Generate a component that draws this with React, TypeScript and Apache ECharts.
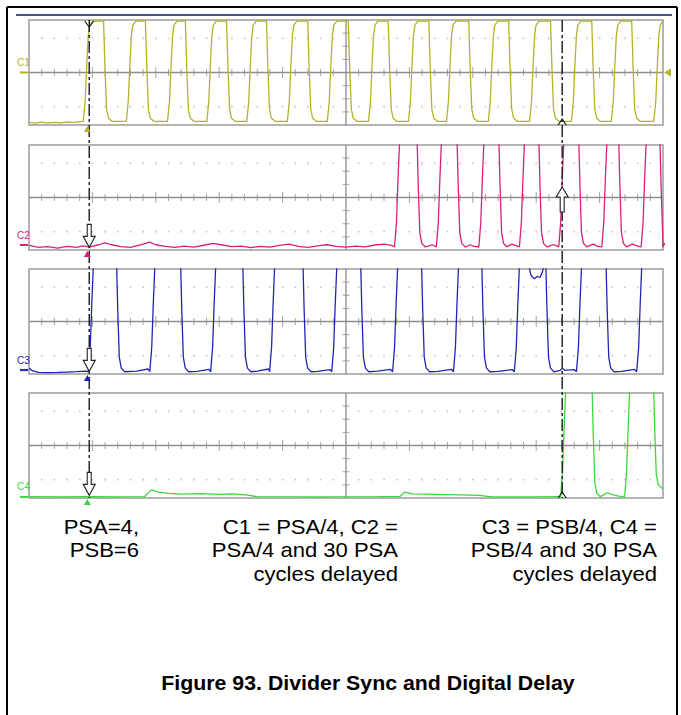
import React, { useEffect, useRef } from "react";
import * as echarts from "echarts";

// ---- Data (time in scope divisions 0..10, amplitude in vertical divisions -4..4) ----
const CH_NAMES = ["C1", "C2", "C3", "C4"];
const CH_COLORS = ["#b3b328", "#d81f7c", "#2424b4", "#3bd83b"];

const C1_RISES = [0.91, 1.59, 2.24, 2.86, 3.49, 4.13, 4.76, 5.41, 6.04, 6.64, 7.3, 7.95, 8.61, 9.24, 9.91];
const C1_FALLS = [1.2, 1.86, 2.49, 3.14, 3.77, 4.42, 5.06, 5.69, 6.33, 6.96, 7.59, 8.25, 8.9, 9.53];
const C2_RISES = [5.82, 6.48, 7.15, 7.79, 8.41, 9.09, 9.71];
const C2_FALLS = [6.14, 6.77, 7.43, 8.06, 8.69, 9.32, 9.97];
const C3_RISES = [0.99, 1.96, 2.92, 3.85, 4.83, 5.79, 6.75, 7.71, 8.69, 9.64];
const C3_FALLS = [1.4, 2.41, 3.39, 4.34, 5.25, 6.21, 7.16, 8.17, 9.12];
const C4_RISES = [8.44, 9.45];
const C4_FALLS = [8.9, 9.87];

const LOW_LEVELS = [-3.72, -3.77, -3.83, -3.9];
const HIGH_LEVELS = [3.92, 5.5, 5.5, 5.5];
const C4_END_LEVEL = -3.25;
const GROUND_LEVELS = [0, -3.62, -3.7, -3.92];

const C1_LEAD = [[0, -3.8], [0.1, -3.86], [0.2, -3.78], [0.3, -3.86], [0.4, -3.8], [0.5, -3.84], [0.6, -3.76], [0.7, -3.8], [0.8, -3.74]];
const C2_LEAD = [
  [0, -3.65], [0.15, -3.8], [0.3, -3.75], [0.45, -3.85], [0.6, -3.72], [0.75, -3.8], [0.85, -3.68], [0.95, -3.78],
  [1.1, -3.6], [1.2, -3.45], [1.3, -3.6], [1.45, -3.75], [1.6, -3.8], [1.8, -3.55], [1.9, -3.4], [2.0, -3.6],
  [2.15, -3.72], [2.3, -3.8], [2.45, -3.7], [2.6, -3.78], [2.8, -3.6], [2.9, -3.5], [3.05, -3.62], [3.2, -3.75],
  [3.35, -3.7], [3.5, -3.82], [3.65, -3.72], [3.8, -3.78], [3.95, -3.65], [4.1, -3.55], [4.25, -3.72], [4.4, -3.8],
  [4.55, -3.68], [4.7, -3.6], [4.85, -3.72], [5.0, -3.78], [5.15, -3.7], [5.3, -3.76], [5.45, -3.62], [5.6, -3.55], [5.72, -3.65],
];
const C3_LEAD = [[0, -3.55], [0.05, -3.75], [0.15, -3.88], [0.3, -3.9], [0.45, -3.88], [0.6, -3.85], [0.75, -3.82], [0.9, -3.78]];
const C4_LEAD = [
  [0, -3.9], [0.5, -3.92], [1.0, -3.9], [1.4, -3.92], [1.82, -3.9], [1.93, -3.38], [2.05, -3.55], [2.2, -3.64],
  [2.4, -3.7], [2.7, -3.66], [3.0, -3.72], [3.2, -3.68], [3.45, -3.78], [3.6, -3.9], [4.5, -3.92], [5.5, -3.9],
  [5.85, -3.88], [5.93, -3.55], [6.05, -3.68], [6.4, -3.72], [6.8, -3.76], [7.1, -3.8], [7.3, -3.92], [8.0, -3.92], [8.35, -3.9],
];
const C1_EXTRA: number[][] = [];
const C2_EXTRA = [
  [6.3, -3.7], [6.36, -3.6], [6.9, -3.75], [6.96, -3.6], [7.02, -3.72], [7.55, -3.7], [7.62, -3.55], [7.7, -3.7],
  [8.2, -3.72], [8.27, -3.58], [8.33, -3.7], [8.82, -3.7], [8.9, -3.55], [8.97, -3.72], [9.45, -3.7], [9.52, -3.56], [9.6, -3.7],
];
const C3_EXTRA = [
  [1.7, -3.78], [1.88, -3.62], [2.65, -3.8], [2.84, -3.65], [3.6, -3.78], [3.78, -3.62], [4.55, -3.8], [4.75, -3.66],
  [5.5, -3.78], [5.7, -3.64], [6.45, -3.8], [6.66, -3.64], [7.4, -3.8], [7.62, -3.66],
  [7.88, 4.3], [7.92, 3.5], [7.97, 3.25], [8.02, 3.45], [8.06, 3.35], [8.1, 3.8], [8.13, 4.5],
  [8.38, -3.72], [8.41, -3.55], [8.45, -3.72], [8.6, -3.66], [9.35, -3.8], [9.55, -3.65],
];
const C4_EXTRA = [[9.05, -3.8], [9.12, -3.6], [9.2, -3.75], [9.3, -3.85]];

const CURSORS = [0.95, 8.41];
const TRIGGER_T = 0.92;

const CAPTION_LEFT = ["PSA=4,", "PSB=6"];
const CAPTION_MID = ["C1 = PSA/4, C2 =", "PSA/4 and 30 PSA", "cycles delayed"];
const CAPTION_RIGHT = ["C3 = PSB/4, C4 =", "PSB/4 and 30 PSA", "cycles delayed"];
const TITLE = "Figure 93. Divider Sync and Digital Delay";

// ---- edge shapes (relative time in divisions, fraction of swing) ----
const RISE_SHAPE = [[-0.055, 0], [-0.024, 0.2], [0, 0.55], [0.024, 0.85], [0.047, 0.96], [0.095, 1]];
const FALL_SHAPE = [[-0.024, 1], [0, 0.5], [0.024, 0.12], [0.055, 0.03], [0.11, 0]];

function buildWave(lead: number[][], rises: number[], falls: number[], low: number, high: number, extra: number[][], endLow?: number) {
  const pts: number[][] = lead.map((p) => [p[0], p[1]]);
  const edges = [...rises.map((t) => ({ t, up: true })), ...falls.map((t) => ({ t, up: false }))].sort((a, b) => a.t - b.t);
  edges.forEach((e, i) => {
    const isLast = i === edges.length - 1;
    const lo = !e.up && isLast && endLow !== undefined ? endLow : low;
    const shape = e.up ? RISE_SHAPE : FALL_SHAPE;
    shape.forEach(([dt, f]) => pts.push([e.t + dt, lo + f * (high - lo)]));
  });
  const last = edges[edges.length - 1];
  pts.push([10, last.up ? high : endLow !== undefined ? endLow : low]);
  extra.forEach((p) => pts.push([p[0], p[1]]));
  pts.sort((a, b) => a[0] - b[0]);
  return pts;
}

const PANEL_TOPS = [20, 145, 269, 393];
const PANEL_LEFT = 29;
const PANEL_W = 634;
const PANEL_H = 105;

export default function App() {
  const ref = useRef<HTMLDivElement>(null);
  useEffect(() => {
    if (!ref.current) return;
    const chart = echarts.init(ref.current, null, { renderer: "svg" });
    const waves = [
      buildWave(C1_LEAD, C1_RISES, C1_FALLS, LOW_LEVELS[0], HIGH_LEVELS[0], C1_EXTRA),
      buildWave(C2_LEAD, C2_RISES, C2_FALLS, LOW_LEVELS[1], HIGH_LEVELS[1], C2_EXTRA),
      buildWave(C3_LEAD, C3_RISES, C3_FALLS, LOW_LEVELS[2], HIGH_LEVELS[2], C3_EXTRA),
      buildWave(C4_LEAD, C4_RISES, C4_FALLS, LOW_LEVELS[3], HIGH_LEVELS[3], C4_EXTRA, C4_END_LEVEL),
    ];
    const ticks: any[] = [];
    const dots: number[][] = [];
    for (let k = 1; k < 50; k++) {
      const x = k * 0.2;
      if (k === 25) continue;
      ticks.push({ value: [x, 0], symbolSize: k % 5 === 0 ? [1, 11] : [1, 7] });
      dots.push([x, 2.6], [x, -2.6]);
    }
    for (let j = -3; j <= 3; j++) {
      if (j === 0) continue;
      ticks.push({ value: [5, j], symbolSize: [7, 1] });
    }
    const series: any[] = [];
    PANEL_TOPS.forEach((_, i) => {
      series.push({
        type: "line", xAxisIndex: i, yAxisIndex: i, silent: true, symbol: "none", z: 1,
        data: [[0, 0], [10, 0]], lineStyle: { color: "#8e8e8e", width: 1.3 },
      });
      series.push({
        type: "line", xAxisIndex: i, yAxisIndex: i, silent: true, symbol: "none", z: 1,
        data: [[5, -4], [5, 4]], lineStyle: { color: "#8e8e8e", width: 1.3 },
      });
      series.push({
        type: "scatter", xAxisIndex: i, yAxisIndex: i, silent: true, symbol: "rect", z: 1,
        data: ticks, itemStyle: { color: "#8e8e8e" },
      });
      series.push({
        type: "scatter", xAxisIndex: i, yAxisIndex: i, silent: true, symbol: "rect", symbolSize: 1.6, z: 1,
        data: dots, itemStyle: { color: "#b4b4b4" },
      });
      series.push({
        type: "line", name: CH_NAMES[i], xAxisIndex: i, yAxisIndex: i, silent: true, symbol: "none", z: 3,
        clip: true, data: waves[i], lineStyle: { color: CH_COLORS[i], width: 1.3 },
      });
    });
    chart.setOption({
      animation: false,
      backgroundColor: "#fff",
      grid: PANEL_TOPS.map((top) => ({
        left: PANEL_LEFT, top, width: PANEL_W, height: PANEL_H, show: true,
        borderColor: "#9c9c9c", borderWidth: 1.5, backgroundColor: "#fff",
      })),
      xAxis: PANEL_TOPS.map((_, i) => ({ gridIndex: i, type: "value", min: 0, max: 10, show: false })),
      yAxis: PANEL_TOPS.map((_, i) => ({ gridIndex: i, type: "value", min: -4, max: 4, show: false })),
      series,
    });

    const P = (gi: number, x: number, y: number) => chart.convertToPixel({ gridIndex: gi }, [x, y]) as number[];
    const g: any[] = [];
    // page frame
    g.push({ type: "line", shape: { x1: 7, y1: 7, x2: 7, y2: 715 }, style: { stroke: "#000", lineWidth: 2 } });
    g.push({ type: "line", shape: { x1: 7, y1: 7, x2: 677, y2: 7 }, style: { stroke: "#000", lineWidth: 2 } });
    g.push({ type: "line", shape: { x1: 677, y1: 7, x2: 677, y2: 715 }, style: { stroke: "#000", lineWidth: 2 } });
    g.push({ type: "line", shape: { x1: 16, y1: 15, x2: 672, y2: 15 }, style: { stroke: "#4d4d8f", lineWidth: 2 } });

    // cursors
    CURSORS.forEach((c) => {
      const top = P(0, c, 4);
      const bot = P(3, c, -4);
      g.push({
        type: "line", z: 10, shape: { x1: top[0], y1: top[1], x2: bot[0], y2: bot[1] },
        style: { stroke: "#1a1a1a", lineWidth: 1.4, lineDash: [12, 3, 3, 3] },
      });
    });
    {
      const [x, y] = P(0, CURSORS[0], 4);
      g.push({ type: "polyline", z: 11, shape: { points: [[x - 4.5, y + 1], [x, y + 7], [x + 4.5, y + 1]] }, style: { stroke: "#1a1a1a", lineWidth: 1.2, fill: null } });
    }
    [0, 3].forEach((gi) => {
      const [x, y] = P(gi, CURSORS[1], -4);
      g.push({ type: "polyline", z: 11, shape: { points: [[x - 4, y], [x, y - 6], [x + 4, y]] }, style: { stroke: "#1a1a1a", lineWidth: 1.2, fill: null } });
    });
    // open arrows down at cursor 1 (panels 2-4)
    [1, 2, 3].forEach((gi) => {
      const [x, y] = P(gi, CURSORS[0], -3.8);
      g.push({
        type: "polygon", z: 12,
        shape: { points: [[x, y], [x - 6, y - 11], [x - 2, y - 11], [x - 2, y - 23], [x + 2, y - 23], [x + 2, y - 11], [x + 6, y - 11]] },
        style: { fill: "#fff", stroke: "#222", lineWidth: 1.1 },
      });
    });
    // open arrow up at cursor 2, panel 2
    {
      const [x, y] = P(1, CURSORS[1], 0.8);
      g.push({
        type: "polygon", z: 12,
        shape: { points: [[x, y], [x - 6, y + 10], [x - 2, y + 10], [x - 2, y + 25], [x + 2, y + 25], [x + 2, y + 10], [x + 6, y + 10]] },
        style: { fill: "#fff", stroke: "#222", lineWidth: 1.1 },
      });
    }
    // trigger triangles and channel labels
    CH_NAMES.forEach((name, i) => {
      const [tx, by] = P(i, TRIGGER_T, -4);
      g.push({ type: "polygon", z: 12, shape: { points: [[tx, by + 1], [tx - 3.5, by + 7], [tx + 3.5, by + 7]] }, style: { fill: CH_COLORS[i] } });
      const gy = P(i, 0, GROUND_LEVELS[i])[1];
      g.push({ type: "line", z: 12, shape: { x1: 20, y1: gy, x2: 28, y2: gy }, style: { stroke: CH_COLORS[i], lineWidth: 2 } });
      g.push({
        type: "text", z: 12, x: 17, y: gy - 10,
        style: { text: name, fill: CH_COLORS[i], font: '10px "Liberation Sans Narrow", "Liberation Sans", Arial', textAlign: "left", align: "left", textVerticalAlign: "middle", verticalAlign: "middle" },
      });
    });
    {
      const [rx, ry] = P(0, 10, 0);
      g.push({ type: "polygon", z: 12, shape: { points: [[rx + 1, ry], [rx + 8, ry - 4], [rx + 8, ry + 4]] }, style: { fill: CH_COLORS[0] } });
    }
    // captions
    const capFont = '21px "Liberation Sans", Arial, sans-serif';
    const addLines = (lines: string[], xr: number, y0: number) =>
      lines.forEach((t, k) =>
        g.push({
          type: "text", x: xr, y: y0 + k * 23.5, scaleX: 1.05,
          style: { text: t, fill: "#000", font: capFont, textAlign: "right", align: "right", textVerticalAlign: "middle", verticalAlign: "middle" },
        })
      );
    addLines(CAPTION_LEFT, 139, 527);
    addLines(CAPTION_MID, 398, 527);
    addLines(CAPTION_RIGHT, 657, 527);
    g.push({
      type: "text", x: 368, y: 683, scaleX: 1.04,
      style: { text: TITLE, fill: "#000", font: 'bold 20.5px "Liberation Sans", Arial, sans-serif', textAlign: "center", align: "center", textVerticalAlign: "middle", verticalAlign: "middle" },
    });
    chart.setOption({ graphic: g });
    return () => chart.dispose();
  }, []);
  return <div ref={ref} style={{ position: "absolute", left: 0, top: 0, width: 681, height: 715, background: "#fff" }} />;
}
